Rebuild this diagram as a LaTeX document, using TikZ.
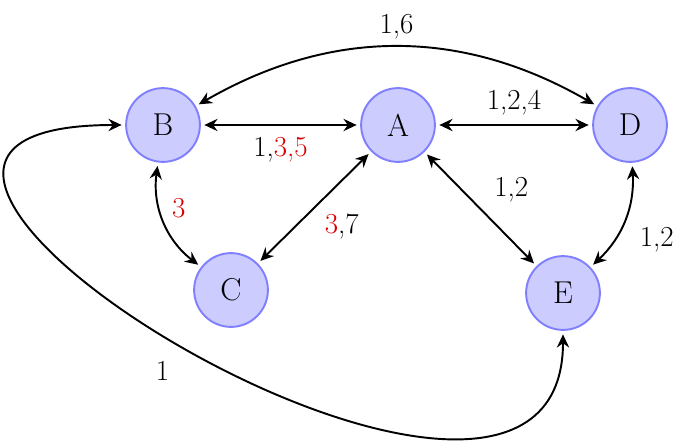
\documentclass[tikz,border=0pt]{standalone}
\usetikzlibrary{arrows.meta}

\tikzset{
  state/.style={circle,draw=blue!50,fill=blue!20,line width=1.1pt,minimum size=42pt,inner sep=0pt,font=\fontsize{18}{20}\selectfont},
  link/.style={<->,line width=1.1pt,shorten <=2pt,shorten >=2pt},
}
\colorlet{hot}{red!85!black}

\begin{document}
\begin{tikzpicture}[x=0.02cm,y=-0.02cm,>={Stealth[length=7.5pt,width=7pt,inset=2.5pt]},font=\fontsize{16.5}{19}\selectfont]
        \useasboundingbox (0,0) rectangle (685,446);

        % states
        \node[state] (A) at (398,125) {A};
        \node[state] (B) at (163,125) {B};
        \node[state] (C) at (231,290) {C};
        \node[state] (D) at (630,125) {D};
        \node[state] (E) at (563,293) {E};

        % links
        \draw[link] (B) -- node[below,yshift=-3pt] (lBA) {1,\textcolor{hot}{3,5}} (A);
        \draw[link] (A) -- node[above,yshift=2pt] (lAD) {1,2,4} (D);
        \draw[link] (B) to[bend left=30] node[above,yshift=1pt] (lBD) {1,6} (D);
        \draw[link] (B) to[bend right=30] node[pos=0.38,right,xshift=3pt] (lBC) {\textcolor{hot}{3}} (C);
        \draw[link] (A) -- node[below right,xshift=2pt] (lAC) {\textcolor{hot}{3},7} (C);
        \draw[link] (A) -- node[above right,xshift=4pt] (lAE) {1,2} (E);
        \draw[link] (D) to[bend left=25] node[below right,xshift=5pt] (lDE) {1,2} (E);
        \draw[link] (B.west) .. controls +(-420,0) and +(0,320) .. node[pos=0.5,below left,xshift=-6pt,yshift=-4pt] (lBE) {1} (E.south);
\end{tikzpicture}
\end{document}
